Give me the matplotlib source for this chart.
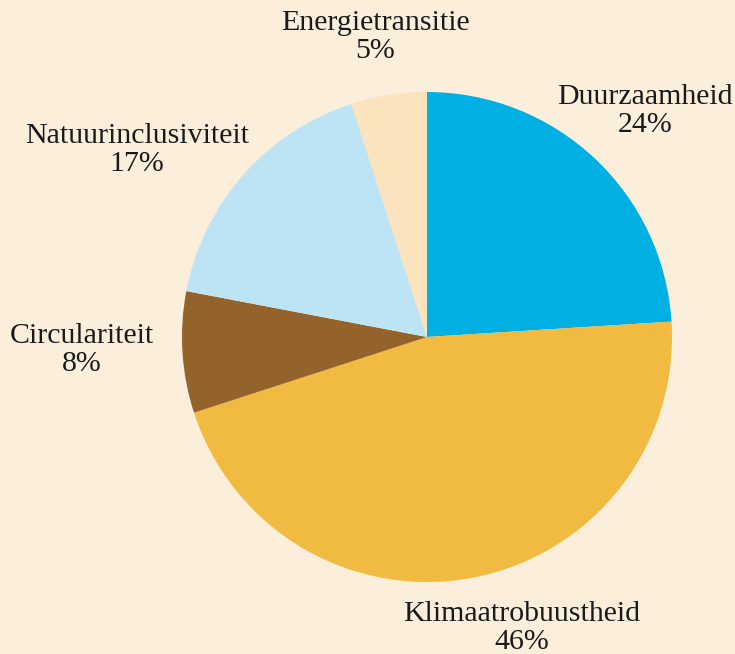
import matplotlib
matplotlib.use("Agg")
import matplotlib.pyplot as plt

categories = ["Duurzaamheid", "Klimaatrobuustheid", "Circulariteit", "Natuurinclusiviteit", "Energietransitie"]
values = [24, 46, 8, 17, 5]
colors = ["#00b0e3", "#f0bb40", "#94622b", "#bde4f5", "#fae3bd"]
label_pos = [(0.890, 0.922), (0.388, -1.188), (-1.408, -0.053), (-1.184, 0.763), (-0.212, 1.224)]

bg = "#fbeedb"
W, H = 735, 654
cx, cy, R = 427, 337, 245

fig = plt.figure(figsize=(W / 100, H / 100), dpi=100, facecolor=bg)
ax = fig.add_axes([0, 0, 1, 1])
ax.set_facecolor(bg)
ax.pie(values, colors=colors, startangle=90, counterclock=False, radius=1,
       wedgeprops=dict(linewidth=0))
ax.set_xlim(-cx / R, (W - cx) / R)
ax.set_ylim(-(H - cy) / R, cy / R)
ax.set_aspect("auto")
ax.axis("off")

for cat, v, (x, y) in zip(categories, values, label_pos):
    ax.text(x, y, f"{cat}\n{v}%", ha="center", va="center", fontsize=21.5,
            family=["Liberation Serif", "DejaVu Serif"], color="#1a1a1a",
            linespacing=1.1)

fig.savefig("out.png", dpi=100, facecolor=bg)
